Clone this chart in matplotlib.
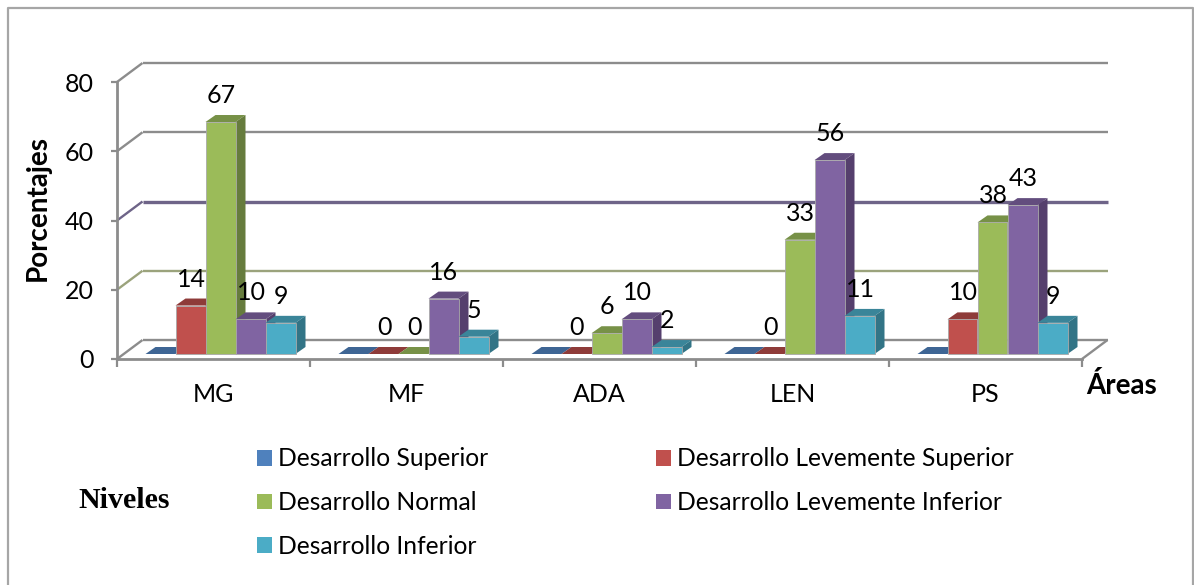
import matplotlib
matplotlib.use("Agg")
import matplotlib.pyplot as plt
from matplotlib.lines import Line2D
from matplotlib.patches import Patch
from matplotlib.transforms import Affine2D, IdentityTransform
import numpy as np

plt.rcParams['font.family'] = ['Lato', 'DejaVu Sans']

categories = ["MG", "MF", "ADA", "LEN", "PS"]
series_names = ["Desarrollo Superior", "Desarrollo Levemente Superior", "Desarrollo Normal",
                "Desarrollo Levemente Inferior", "Desarrollo Inferior"]
superior = [0, 0, 0, 0, 0]
lev_superior = [14, 0, 0, 0, 10]
normal = [67, 0, 6, 33, 38]
lev_inferior = [10, 16, 10, 56, 43]
inferior = [9, 5, 2, 11, 9]
y_ticks = [0, 20, 40, 60, 80]

series = [superior, lev_superior, normal, lev_inferior, inferior]
front = ["#4F81BD", "#C0504D", "#9BBB59", "#8064A2", "#4BACC6"]
top = ["#3E6594", "#8E3B39", "#779147", "#634D7E", "#3A8599"]
side = ["#35577F", "#7D3432", "#667C3D", "#553F6D", "#327486"]
show_label = [False, True, True, True, True]
grid_colors = ["#8C8C8C", "#9BA37C", "#6E6488", "#8C8C8C", "#8C8C8C"]
grid_widths = [1.7, 1.7, 2.4, 1.7, 1.7]
legend_order = [0, 2, 4, 1, 3]

W, H = 1194, 585
fig = plt.figure(figsize=(W / 100, H / 100), dpi=100, facecolor="white")
L, R, T, B = 117, 1082, 82, 359
ax = fig.add_axes([L / W, 1 - B / H, (R - L) / W, (B - T) / H])
ax.set_xlim(0, 5)
ax.set_ylim(0, 80)
ax.patch.set_visible(False)

fig.add_artist(Line2D([8 / W, 8 / W, 1193 / W, 1193 / W], [0, 1 - 8 / H, 1 - 8 / H, 0],
                      transform=fig.transFigure, color="#A6A6A6", lw=1.6))

WALL = (25.5, 19)
BAR_D = (10, 7)
BASE = (7, 5)
BW = 30 / 193


def px(x, y, dx=0, dy=0):
    p = ax.transData.transform((x, y))
    return p[0] + dx, p[1] + dy


def poly(points, color, z):
    ax.fill(*zip(*points), transform=IdentityTransform(), color=color, zorder=z,
            clip_on=False, lw=0)


def seg(a, b, color, lw, z):
    ax.plot([a[0], b[0]], [a[1], b[1]], transform=IdentityTransform(), color=color, lw=lw,
            zorder=z, clip_on=False, solid_capstyle="butt")


# back wall gridlines + side-wall diagonals
wall = Affine2D().translate(*WALL)
for v, c, w in zip(y_ticks, grid_colors, grid_widths):
    ax.plot([0, 5], [v, v], color=c, lw=w, clip_on=False, zorder=1,
            transform=ax.transData + wall, solid_capstyle="butt")
    seg(px(0, v), px(0, v, *WALL), c, 1.7, 1)
seg(px(5, 0), px(5, 0, *WALL), "#8C8C8C", 1.7, 1)

# bars
base = Affine2D().translate(*BASE)
z = 3
for c_i in range(len(categories)):
    for s_i, vals in enumerate(series):
        v = vals[c_i]
        x0 = c_i + 0.5 + (s_i - 2.5) * BW
        x1 = x0 + BW
        a = px(x0, v, *BASE)
        b = px(x1, v, *BASE)
        b0 = px(x1, 0, *BASE)
        d = BAR_D
        poly([a, b, (b[0] + d[0], b[1] + d[1]), (a[0] + d[0], a[1] + d[1])], top[s_i], z)
        if v > 0:
            poly([b, b0, (b0[0] + d[0], b0[1] + d[1]), (b[0] + d[0], b[1] + d[1])], side[s_i], z)
            ax.bar(x0, v, BW, align="edge", color=front[s_i], edgecolor="#A9A9A9", linewidth=0.6,
                   transform=ax.transData + base, zorder=z + 0.1, clip_on=False)
        if show_label[s_i]:
            ax.annotate(str(v), (x0 + BW / 2, v), xytext=(BASE[0] + 0.5, BASE[1] + 19),
                        textcoords="offset pixels", ha="center", va="baseline", fontsize=18,
                        color="black", zorder=20, annotation_clip=False)
        z += 0.2

# axes
for s in ["top", "right"]:
    ax.spines[s].set_visible(False)
for s in ["left", "bottom"]:
    ax.spines[s].set_color("#8C8C8C")
    ax.spines[s].set_linewidth(2)
    ax.spines[s].set_zorder(2)
ax.set_yticks(y_ticks)
ax.set_xticks(range(6))
ax.set_xticklabels([])
ax.set_xticks(np.arange(len(categories)) + 0.5, categories, minor=True)
ax.tick_params(axis="y", length=4.5, width=1.6, color="#8C8C8C", labelsize=18, pad=12.3)
ax.tick_params(axis="x", which="major", length=6, width=1.6, color="#8C8C8C")
ax.tick_params(axis="x", which="minor", length=0, labelsize=18, pad=17.3)

ax.text(37.5 / W, 1 - 208 / H, "Porcentajes", transform=fig.transFigure, rotation=90, ha="center",
        va="center", fontsize=20, fontweight="bold")
ax.text(1122 / W, 1 - 386 / H, "Áreas", transform=fig.transFigure, ha="center", va="center",
        fontsize=20, fontweight="bold")
ax.text(124.5 / W, 1 - 501 / H, "Niveles", transform=fig.transFigure, ha="center", va="center",
        fontsize=21.5, fontweight="bold", family="Liberation Serif")

handles = [Patch(facecolor=front[i], edgecolor="none", label=series_names[i]) for i in legend_order]
fig.legend(handles=handles, ncols=2, loc="upper left", bbox_to_anchor=(257 / W, 1 - 447.5 / H),
           frameon=False, fontsize=17.7, handlelength=0.61, handleheight=0.61, handletextpad=0.25,
           labelspacing=0.84, columnspacing=6.83, borderpad=0, borderaxespad=0)

fig.savefig("out.png", dpi=100)
